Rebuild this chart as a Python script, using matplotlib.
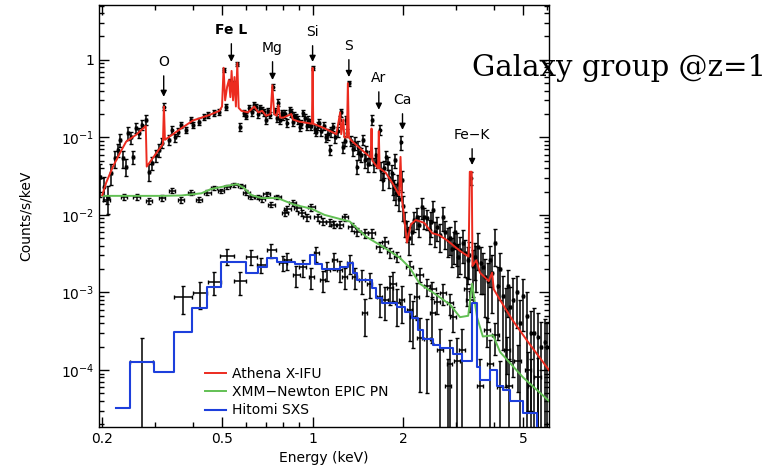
import numpy as np
import matplotlib.pyplot as plt
from matplotlib.ticker import FixedLocator, FixedFormatter, NullFormatter

# --- model curves (keV, counts/s/keV) ---
red_e = [0.200, 0.206, 0.217, 0.229, 0.240, 0.259, 0.279, 0.281, 0.300, 0.318, 0.3205, 0.323,
         0.360, 0.400, 0.455, 0.490, 0.500, 0.506, 0.512, 0.520, 0.527, 0.533, 0.538, 0.544,
         0.550, 0.556, 0.562, 0.568, 0.580, 0.610, 0.640, 0.660, 0.680, 0.700, 0.725, 0.735,
         0.745, 0.760, 0.770, 0.780, 0.800, 0.850, 0.860, 0.900, 0.995, 1.000, 1.005, 1.100,
         1.200, 1.235, 1.245, 1.265, 1.275, 1.300, 1.310, 1.320, 1.350, 1.450, 1.560, 1.570,
         1.580, 1.650, 1.660, 1.670, 1.750, 1.850, 1.940, 1.960, 1.980, 2.000, 2.060, 2.120,
         2.200, 2.350, 2.500, 2.630, 2.800, 3.100, 3.300, 3.330, 3.380, 3.400, 3.500, 3.600,
         3.850, 3.950, 4.000, 4.200, 4.600, 5.200, 6.100]
red_v = [0.018, 0.026, 0.042, 0.063, 0.088, 0.108, 0.140, 0.042, 0.060, 0.082, 0.25, 0.093,
         0.125, 0.165, 0.195, 0.220, 0.25, 0.79, 0.30, 0.45, 0.55, 0.33, 0.72, 0.30,
         0.60, 0.25, 0.91, 0.24, 0.22, 0.21, 0.25, 0.21, 0.22, 0.19, 0.20, 0.47,
         0.20, 0.19, 0.26, 0.18, 0.18, 0.20, 0.17, 0.16, 0.15, 0.79, 0.15, 0.13,
         0.11, 0.21, 0.11, 0.17, 0.10, 0.10, 0.50, 0.10, 0.09, 0.07, 0.055, 0.13,
         0.05, 0.04, 0.12, 0.04, 0.035, 0.025, 0.018, 0.056, 0.016, 0.012, 0.0044, 0.0075,
         0.0086, 0.0079, 0.0058, 0.0055, 0.0047, 0.0034, 0.0029, 0.036, 0.036, 0.0022, 0.0026, 0.0018,
         0.0014, 0.0018, 0.0011, 0.0008, 0.00045, 0.00023, 0.0001]

green_e = [0.200, 0.314, 0.366, 0.427, 0.460, 0.520, 0.562, 0.593, 0.626, 0.676, 0.764, 0.871,
           0.992, 1.096, 1.330, 1.510, 1.710, 1.950, 2.100, 2.270, 2.510, 2.860, 3.090, 3.290,
           3.390, 3.520, 3.680, 3.980, 4.200, 5.010, 6.100]
green_v = [0.0176, 0.0176, 0.0178, 0.019, 0.0216, 0.0237, 0.025, 0.022, 0.018, 0.0165, 0.0165, 0.0135,
           0.012, 0.010, 0.0082, 0.0052, 0.0039, 0.0028, 0.0021, 0.0013, 0.0010, 0.0007, 0.00048, 0.0005,
           0.0013, 0.00048, 0.00027, 0.00028, 0.00017, 0.00008, 0.00004]

blue_edges = [0.222, 0.247, 0.297, 0.347, 0.398, 0.447, 0.497, 0.603, 0.656, 0.703, 0.759, 0.871,
              0.977, 1.016, 1.072, 1.23, 1.31, 1.36, 1.40, 1.57, 1.63, 1.70, 1.91, 2.03, 2.14,
              2.24, 2.33, 2.51, 2.65, 2.93, 3.14, 3.39, 3.52, 3.60, 3.89, 4.10, 4.30, 4.54,
              5.01, 5.58, 6.12]
blue_v = [3.2e-5, 1.28e-4, 9.4e-5, 3.1e-4, 6.3e-4, 1.17e-3, 2.5e-3, 1.8e-3, 2.1e-3, 2.8e-3, 2.5e-3,
          2.3e-3, 3.0e-3, 2.3e-3, 2.0e-3, 2.1e-3, 2.4e-3, 1.8e-3, 1.45e-3, 1.13e-3, 8.5e-4, 7.3e-4,
          6.5e-4, 5.6e-4, 4.7e-4, 3.3e-4, 2.5e-4, 2.1e-4, 1.9e-4, 1.6e-4, 1.3e-4, 7.3e-4, 1.1e-4,
          7.5e-5, 1.0e-4, 6.3e-5, 5.5e-5, 4.0e-5, 2.8e-5, 1.6e-5]

# --- data points: energy, value, relative error ---
ath_e = [0.197, 0.202, 0.209, 0.214, 0.220, 0.225, 0.229, 0.234, 0.240, 0.243, 0.249, 0.253,
         0.259, 0.265, 0.270, 0.280, 0.286, 0.292, 0.302, 0.309, 0.316, 0.320, 0.333, 0.340,
         0.350, 0.358, 0.366, 0.380, 0.395, 0.400, 0.420, 0.436, 0.450, 0.470, 0.490, 0.506,
         0.516, 0.530, 0.550, 0.562, 0.575, 0.590, 0.617, 0.650, 0.680, 0.720, 0.736, 0.790,
         0.820, 0.838, 0.884, 0.905, 0.926, 0.977, 1.000, 1.030, 1.050, 1.110, 1.140, 1.170,
         1.230, 1.260, 1.300, 1.320, 1.400, 1.430, 1.470, 1.490, 1.580, 1.620, 1.670, 1.710,
         1.760, 1.780, 1.850, 1.880, 1.900, 1.960, 1.980, 2.060, 2.140, 2.220, 2.310, 2.350,
         2.450, 2.510, 2.600, 2.710, 2.820, 2.900, 2.970, 3.050, 3.160, 3.280, 3.350, 3.460,
         3.550, 3.680, 3.890, 4.040, 4.200, 4.470, 4.540, 4.780, 5.000, 5.300, 5.600, 5.900]
ath_v = [0.031, 0.023, 0.017, 0.035, 0.054, 0.069, 0.093, 0.054, 0.042, 0.114, 0.100, 0.056,
         0.133, 0.114, 0.145, 0.168, 0.036, 0.047, 0.059, 0.069, 0.085, 0.25, 0.093, 0.125,
         0.100, 0.118, 0.145, 0.125, 0.168, 0.145, 0.160, 0.184, 0.195, 0.207, 0.213, 0.75,
         0.247, 0.52, 0.50, 0.88, 0.137, 0.207, 0.24, 0.247, 0.227, 0.195, 0.45, 0.207,
         0.154, 0.227, 0.184, 0.137, 0.207, 0.154, 0.79, 0.118, 0.154, 0.100, 0.069, 0.137,
         0.168, 0.075, 0.114, 0.50, 0.042, 0.063, 0.093, 0.051, 0.168, 0.060, 0.125, 0.028,
         0.056, 0.047, 0.026, 0.051, 0.019, 0.087, 0.028, 0.0064, 0.0060, 0.0094, 0.0126, 0.0094,
         0.0064, 0.0116, 0.0070, 0.0094, 0.0048, 0.0036, 0.0060, 0.0029, 0.0044, 0.0026, 0.030, 0.0029,
         0.0039, 0.0021, 0.0026, 0.0044, 0.0020, 0.0012, 0.00065, 0.0010, 0.0009, 0.0003, 0.00027, 0.00023]
ath_err = [0.45, 0.35, 0.4, 0.3, 0.25, 0.2, 0.2, 0.25, 0.25, 0.18, 0.18, 0.2,
           0.15, 0.15, 0.15, 0.14, 0.25, 0.2, 0.18, 0.18, 0.15, 0.1, 0.15, 0.12,
           0.12, 0.12, 0.1, 0.1, 0.1, 0.1, 0.1, 0.1, 0.1, 0.1, 0.1, 0.06,
           0.1, 0.08, 0.08, 0.06, 0.12, 0.1, 0.1, 0.1, 0.1, 0.1, 0.08, 0.1,
           0.12, 0.1, 0.1, 0.12, 0.1, 0.12, 0.06, 0.12, 0.12, 0.12, 0.15, 0.12,
           0.12, 0.15, 0.12, 0.08, 0.2, 0.18, 0.15, 0.2, 0.15, 0.2, 0.15, 0.25,
           0.2, 0.2, 0.3, 0.2, 0.3, 0.2, 0.3, 0.3, 0.3, 0.3, 0.3, 0.3,
           0.35, 0.3, 0.35, 0.35, 0.4, 0.4, 0.4, 0.45, 0.45, 0.5, 0.2, 0.5,
           0.5, 0.55, 0.55, 0.5, 0.6, 0.6, 0.8, 0.65, 0.65, 0.9, 1.0, 1.0]

# second, denser set of Athena bins (0.6-6 keV)
ath2_e = [0.600, 0.630, 0.640, 0.660, 0.670, 0.690, 0.700, 0.710, 0.750, 0.760, 0.770, 0.780,
          0.800, 0.810, 0.850, 0.860, 0.870, 0.895, 0.915, 0.940, 0.955, 0.965, 0.990, 1.015,
          1.040, 1.070, 1.090, 1.125, 1.155, 1.190, 1.210, 1.245, 1.280, 1.290, 1.340, 1.360,
          1.380, 1.420, 1.450, 1.510, 1.530, 1.550, 1.600, 1.640, 1.690, 1.730, 1.800, 1.830,
          1.870, 1.920, 1.940, 2.000, 2.030, 2.090, 2.170, 2.260, 2.400, 2.480, 2.550, 2.650,
          2.760, 2.860, 2.940, 3.010, 3.100, 3.210, 3.320, 3.420, 3.500, 3.620, 3.750, 3.820,
          3.950, 4.120, 4.300, 4.400, 4.650, 4.900, 5.150, 5.450, 5.750, 6.000]
ath2_v = [0.19, 0.21, 0.26, 0.20, 0.24, 0.21, 0.17, 0.22, 0.22, 0.18, 0.28, 0.17,
          0.19, 0.20, 0.21, 0.16, 0.19, 0.17, 0.15, 0.18, 0.14, 0.17, 0.14, 0.13,
          0.14, 0.12, 0.14, 0.11, 0.12, 0.10, 0.12, 0.21, 0.09, 0.17, 0.09, 0.07,
          0.085, 0.075, 0.06, 0.065, 0.045, 0.055, 0.045, 0.05, 0.038, 0.04, 0.03, 0.035,
          0.022, 0.025, 0.016, 0.013, 0.008, 0.005, 0.0085, 0.0075, 0.009, 0.008, 0.006, 0.0055,
          0.006, 0.005, 0.0042, 0.004, 0.0035, 0.0032, 0.003, 0.0022, 0.0025, 0.0024, 0.0016, 0.0014,
          0.0018, 0.0012, 0.0009, 0.0006, 0.0008, 0.0004, 0.0005, 0.0003, 0.0002, 0.0002]
ath2_err = [0.1, 0.1, 0.1, 0.1, 0.1, 0.1, 0.12, 0.1, 0.1, 0.12, 0.1, 0.12,
            0.12, 0.12, 0.12, 0.12, 0.12, 0.12, 0.12, 0.12, 0.12, 0.12, 0.12, 0.12,
            0.12, 0.12, 0.12, 0.15, 0.15, 0.15, 0.15, 0.12, 0.15, 0.12, 0.15, 0.18,
            0.18, 0.18, 0.2, 0.2, 0.2, 0.2, 0.2, 0.2, 0.25, 0.25, 0.25, 0.25,
            0.3, 0.3, 0.3, 0.35, 0.35, 0.4, 0.3, 0.3, 0.3, 0.35, 0.35, 0.4,
            0.4, 0.4, 0.45, 0.45, 0.5, 0.5, 0.5, 0.6, 0.6, 0.6, 0.7, 0.7,
            0.7, 0.8, 0.8, 0.9, 0.9, 1.0, 1.0, 1.1, 1.1, 1.1]

xmm_e = [0.207, 0.236, 0.260, 0.286, 0.316, 0.341, 0.366, 0.395, 0.420, 0.447, 0.470, 0.497,
         0.520, 0.550, 0.580, 0.603, 0.626, 0.656, 0.680, 0.703, 0.730, 0.764, 0.810, 0.825,
         0.858, 0.890, 0.920, 0.955, 0.990, 1.040, 1.080, 1.140, 1.180, 1.230, 1.280, 1.350,
         1.410, 1.490, 1.570, 1.670, 1.740, 1.810, 1.910, 2.100, 2.270, 2.400, 2.500, 2.590,
         2.710, 2.860, 2.930, 3.330, 3.800, 4.050, 4.430, 4.800, 5.200, 5.600]
xmm_v = [0.0157, 0.017, 0.017, 0.0152, 0.0166, 0.0206, 0.0157, 0.0193, 0.0157, 0.0193, 0.022, 0.0206,
         0.023, 0.0245, 0.0237, 0.0193, 0.017, 0.017, 0.016, 0.0187, 0.0136, 0.017, 0.0106, 0.012,
         0.0143, 0.0123, 0.0106, 0.0094, 0.0125, 0.0094, 0.0082, 0.008, 0.0075, 0.0075, 0.0094, 0.007,
         0.006, 0.0058, 0.0058, 0.0039, 0.0045, 0.0033, 0.0029, 0.0021, 0.0017, 0.0012, 0.0011, 0.00076,
         0.00098, 0.00073, 0.00048, 0.0008, 0.00033, 0.00028, 0.00018, 0.00013, 0.0001, 0.00008]
xmm_err = [0.12, 0.08, 0.08, 0.08, 0.08, 0.08, 0.08, 0.07, 0.07, 0.07, 0.06, 0.06,
           0.06, 0.06, 0.06, 0.07, 0.07, 0.07, 0.07, 0.07, 0.08, 0.07, 0.1, 0.1,
           0.08, 0.1, 0.1, 0.1, 0.1, 0.1, 0.1, 0.1, 0.1, 0.1, 0.1, 0.12,
           0.12, 0.12, 0.12, 0.15, 0.15, 0.15, 0.15, 0.2, 0.2, 0.25, 0.25, 0.3,
           0.3, 0.3, 0.35, 0.3, 0.4, 0.45, 0.5, 0.6, 0.7, 0.8]

hit_e = [0.271, 0.371, 0.423, 0.471, 0.520, 0.575, 0.626, 0.676, 0.730, 0.800, 0.825, 0.884,
         0.926, 0.990, 1.030, 1.080, 1.120, 1.180, 1.230, 1.280, 1.330, 1.380, 1.460, 1.490,
         1.550, 1.670, 1.740, 1.810, 1.850, 1.910, 1.980, 2.100, 2.150, 2.220, 2.270, 2.400,
         2.500, 2.650, 2.820, 2.860, 3.020, 3.140, 3.260, 3.600, 3.890, 4.200, 4.500, 5.300]
hit_v = [1.27e-4, 8.75e-4, 9.9e-4, 1.37e-3, 2.96e-3, 1.4e-3, 2.9e-3, 2.25e-3, 3.5e-3, 2.4e-3, 2.6e-3, 1.7e-3,
         2.1e-3, 1.6e-3, 3.2e-3, 1.45e-3, 1.95e-3, 2.6e-3, 1.95e-3, 1.6e-3, 2.4e-3, 1.6e-3, 1.45e-3, 5.5e-4,
         1.3e-3, 8.8e-4, 8.0e-4, 1.15e-3, 1.3e-3, 7.3e-4, 8.0e-4, 5.9e-4, 4.8e-4, 8.8e-4, 2.6e-4, 2.5e-4,
         5.5e-4, 1.8e-4, 6.3e-5, 1.2e-4, 1.3e-4, 1.8e-4, 1.1e-3, 6.3e-5, 1.2e-4, 6.0e-5, 6.3e-5, 6.3e-5]
hit_err = [1.05, 0.4, 0.38, 0.33, 0.23, 0.33, 0.22, 0.22, 0.2, 0.22, 0.25, 0.3,
           0.25, 0.3, 0.22, 0.3, 0.28, 0.25, 0.3, 0.3, 0.28, 0.3, 0.35, 0.5,
           0.35, 0.45, 0.45, 0.4, 0.4, 0.5, 0.5, 0.6, 0.6, 0.5, 0.8, 0.8,
           0.6, 0.9, 1.2, 1.0, 1.0, 0.9, 0.4, 1.2, 1.0, 1.2, 1.2, 1.2]
hit_dx = [0.09, 0.07, 0.055, 0.05, 0.05, 0.045, 0.04, 0.035, 0.035, 0.03, 0.025, 0.025,
          0.025, 0.02, 0.02, 0.02, 0.02, 0.02, 0.02, 0.02, 0.02, 0.02, 0.02, 0.02,
          0.02, 0.02, 0.02, 0.02, 0.02, 0.02, 0.02, 0.02, 0.02, 0.02, 0.02, 0.02,
          0.02, 0.02, 0.02, 0.02, 0.02, 0.02, 0.02, 0.02, 0.02, 0.02, 0.02, 0.02]

# line identifications: label, energy, arrow tip, text position
line_names = ["O", "Fe L", "Mg", "Si", "S", "Ar", "Ca", "Fe\u2212K"]
line_e = [0.320, 0.537, 0.736, 1.0, 1.32, 1.66, 1.99, 3.39]
line_tip = [0.333, 0.94, 0.55, 0.94, 0.60, 0.227, 0.125, 0.044]
line_txt = [0.94, 2.44, 1.43, 2.3, 1.52, 0.585, 0.305, 0.108]

fig = plt.figure(figsize=(7.77, 4.69), dpi=100)
ax = fig.add_axes([0.1274, 0.0896, 0.579, 0.8998])
ax.set_xscale('log')
ax.set_yscale('log')

ath_e = np.array(ath_e + ath2_e)
ath_v = np.array(ath_v + ath2_v)
ath_err = np.array(ath_err + ath2_err)
xmm_e, xmm_v, xmm_err = map(np.array, (xmm_e, xmm_v, xmm_err))
hit_e, hit_v, hit_err, hit_dx = map(np.array, (hit_e, hit_v, hit_err, hit_dx))

ax.errorbar(ath_e, ath_v, yerr=ath_v * ath_err, xerr=ath_e * 0.006, fmt='o', ms=1.8,
            color='black', ecolor='black', elinewidth=1.1, capsize=1.5, zorder=2)
ax.errorbar(xmm_e, xmm_v, yerr=xmm_v * xmm_err, xerr=xmm_e * 0.025, fmt='none',
            ecolor='black', elinewidth=1.1, capsize=1.2, zorder=2)
ax.errorbar(hit_e, hit_v, yerr=hit_v * hit_err, xerr=hit_e * hit_dx, fmt='none',
            ecolor='black', elinewidth=1.1, capsize=1.2, zorder=2)

ax.plot(red_e, red_v, color='#ec2b1f', lw=1.4, label='Athena X-IFU', zorder=4)
ax.plot(green_e, green_v, color='#62c054', lw=1.4, label='XMM\u2212Newton EPIC PN', zorder=3)
ax.plot(blue_edges, blue_v + [blue_v[-1]], drawstyle='steps-post', color='#1d3fdc', lw=1.5,
        label='Hitomi SXS', zorder=3)

for name, e, tip, txt in zip(line_names, line_e, line_tip, line_txt):
    ax.annotate(name, xy=(e, tip), xytext=(e, txt), ha='center', va='center', fontsize=10,
                fontweight='bold' if name == 'Fe L' else 'normal',
                arrowprops=dict(arrowstyle='-|>', color='black', lw=1.0, mutation_scale=9,
                                shrinkA=3, shrinkB=0))

ax.set_xlim(0.195, 6.1)
ax.set_ylim(1.84e-5, 5.1)

ax.xaxis.set_major_locator(FixedLocator([0.2, 0.5, 1, 2, 5]))
ax.xaxis.set_major_formatter(FixedFormatter(['0.2', '0.5', '1', '2', '5']))
ax.xaxis.set_minor_locator(FixedLocator([0.3, 0.4, 0.6, 0.7, 0.8, 0.9, 3, 4, 6]))
ax.xaxis.set_minor_formatter(NullFormatter())
ax.yaxis.set_major_locator(FixedLocator([1e-4, 1e-3, 1e-2, 1e-1, 1]))
ax.yaxis.set_major_formatter(FixedFormatter([r'$10^{-4}$', r'$10^{-3}$', r'$10^{-2}$',
                                             r'$10^{-1}$', '1']))
ax.tick_params(which='both', direction='in', top=True, right=True, labelsize=10)
ax.tick_params(which='major', length=7, width=1)
ax.tick_params(which='minor', length=3.5, width=1)
for s in ax.spines.values():
    s.set_linewidth(1.0)

ax.set_xlabel('Energy (keV)', fontsize=10, labelpad=4)
ax.set_ylabel('Counts/s/keV', fontsize=10, labelpad=20)

ax.legend(loc='upper left', bbox_to_anchor=(0.235, 0.142), frameon=False, fontsize=10,
          handlelength=1.5, handletextpad=0.5, labelspacing=0.3, borderpad=0, borderaxespad=0)

fig.text(0.797, 0.855, 'Galaxy group @z=1', ha='center', va='center', fontsize=21,
         family='DejaVu Serif')

fig.savefig('out.png', dpi=100)
